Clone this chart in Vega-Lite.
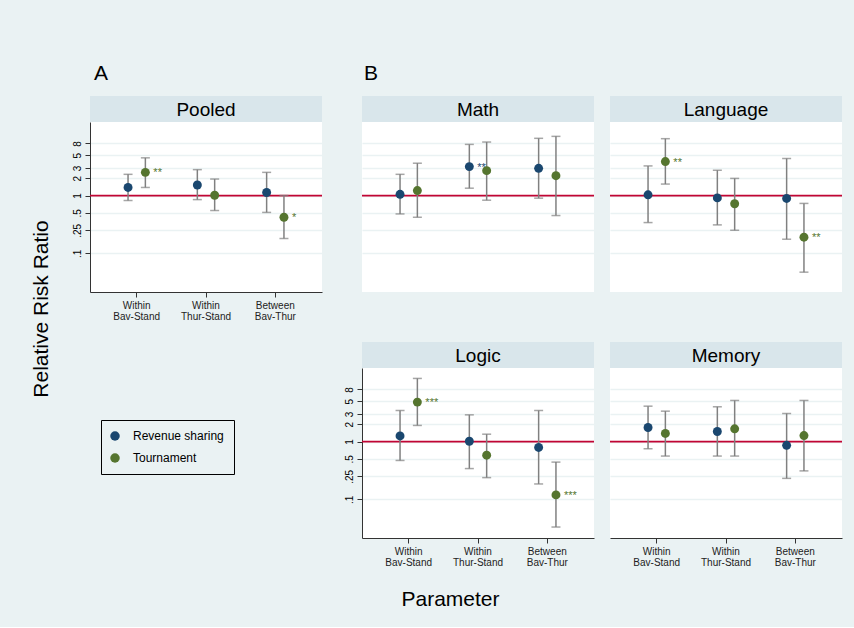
{
  "$schema": "https://vega.github.io/schema/vega-lite/v6.json",
  "background": "#eaf2f3",
  "padding": {"left": 30, "top": 63, "right": 13, "bottom": 18},
  "config": {"font": "Liberation Sans", "view": {"stroke": null}},
  "title": {"text": "Relative Risk Ratio", "orient": "left", "anchor": "middle", "fontSize": 21, "fontWeight": "normal", "color": "#000", "offset": 20, "dx": 27},
  "datasets": {
    "est": [
      {"panel": "Pooled", "param": "Within Bav-Stand", "series": "Revenue sharing", "est": 1.38, "lo": 0.82, "hi": 2.33, "star": ""},
      {"panel": "Pooled", "param": "Within Bav-Stand", "series": "Tournament", "est": 2.52, "lo": 1.38, "hi": 4.5, "star": "**"},
      {"panel": "Pooled", "param": "Within Thur-Stand", "series": "Revenue sharing", "est": 1.52, "lo": 0.85, "hi": 2.81, "star": ""},
      {"panel": "Pooled", "param": "Within Thur-Stand", "series": "Tournament", "est": 1.01, "lo": 0.55, "hi": 1.93, "star": ""},
      {"panel": "Pooled", "param": "Between Bav-Thur", "series": "Revenue sharing", "est": 1.13, "lo": 0.51, "hi": 2.52, "star": ""},
      {"panel": "Pooled", "param": "Between Bav-Thur", "series": "Tournament", "est": 0.42, "lo": 0.18, "hi": 1.0, "star": "*"},
      {"panel": "Math", "param": "Within Bav-Stand", "series": "Revenue sharing", "est": 1.05, "lo": 0.48, "hi": 2.33, "star": ""},
      {"panel": "Math", "param": "Within Bav-Stand", "series": "Tournament", "est": 1.22, "lo": 0.42, "hi": 3.63, "star": ""},
      {"panel": "Math", "param": "Within Thur-Stand", "series": "Revenue sharing", "est": 3.17, "lo": 1.34, "hi": 7.69, "star": "**"},
      {"panel": "Math", "param": "Within Thur-Stand", "series": "Tournament", "est": 2.7, "lo": 0.83, "hi": 8.45, "star": ""},
      {"panel": "Math", "param": "Between Bav-Thur", "series": "Revenue sharing", "est": 2.96, "lo": 0.9, "hi": 9.8, "star": ""},
      {"panel": "Math", "param": "Between Bav-Thur", "series": "Tournament", "est": 2.21, "lo": 0.45, "hi": 10.6, "star": ""},
      {"panel": "Language", "param": "Within Bav-Stand", "series": "Revenue sharing", "est": 1.03, "lo": 0.34, "hi": 3.26, "star": ""},
      {"panel": "Language", "param": "Within Bav-Stand", "series": "Tournament", "est": 3.88, "lo": 1.58, "hi": 9.66, "star": "**"},
      {"panel": "Language", "param": "Within Thur-Stand", "series": "Revenue sharing", "est": 0.91, "lo": 0.31, "hi": 2.74, "star": ""},
      {"panel": "Language", "param": "Within Thur-Stand", "series": "Tournament", "est": 0.72, "lo": 0.25, "hi": 1.98, "star": ""},
      {"panel": "Language", "param": "Between Bav-Thur", "series": "Revenue sharing", "est": 0.89, "lo": 0.175, "hi": 4.38, "star": ""},
      {"panel": "Language", "param": "Between Bav-Thur", "series": "Tournament", "est": 0.19, "lo": 0.047, "hi": 0.73, "star": "**"},
      {"panel": "Logic", "param": "Within Bav-Stand", "series": "Revenue sharing", "est": 1.25, "lo": 0.47, "hi": 3.45, "star": ""},
      {"panel": "Logic", "param": "Within Bav-Stand", "series": "Tournament", "est": 4.82, "lo": 1.9, "hi": 12.4, "star": "***"},
      {"panel": "Logic", "param": "Within Thur-Stand", "series": "Revenue sharing", "est": 1.01, "lo": 0.34, "hi": 2.9, "star": ""},
      {"panel": "Logic", "param": "Within Thur-Stand", "series": "Tournament", "est": 0.58, "lo": 0.237, "hi": 1.34, "star": ""},
      {"panel": "Logic", "param": "Between Bav-Thur", "series": "Revenue sharing", "est": 0.79, "lo": 0.184, "hi": 3.45, "star": ""},
      {"panel": "Logic", "param": "Between Bav-Thur", "series": "Tournament", "est": 0.119, "lo": 0.033, "hi": 0.44, "star": "***"},
      {"panel": "Memory", "param": "Within Bav-Stand", "series": "Revenue sharing", "est": 1.75, "lo": 0.75, "hi": 4.1, "star": ""},
      {"panel": "Memory", "param": "Within Bav-Stand", "series": "Tournament", "est": 1.38, "lo": 0.56, "hi": 3.36, "star": ""},
      {"panel": "Memory", "param": "Within Thur-Stand", "series": "Revenue sharing", "est": 1.49, "lo": 0.56, "hi": 4.0, "star": ""},
      {"panel": "Memory", "param": "Within Thur-Stand", "series": "Tournament", "est": 1.66, "lo": 0.56, "hi": 5.15, "star": ""},
      {"panel": "Memory", "param": "Between Bav-Thur", "series": "Revenue sharing", "est": 0.86, "lo": 0.23, "hi": 3.06, "star": ""},
      {"panel": "Memory", "param": "Between Bav-Thur", "series": "Tournament", "est": 1.27, "lo": 0.31, "hi": 5.15, "star": ""}
    ]
  },
  "hconcat": [
    {
      "title": {"text": "A", "anchor": "start", "frame": "group", "fontSize": 21, "fontWeight": "normal", "color": "#000", "offset": 12, "dx": 4},
      "vconcat": [
        {
          "width": 232, "height": 26,
          "view": {"fill": "#d9e6eb", "stroke": null},
          "data": {"values": [{"panel": "Pooled"}]},
          "mark": {"type": "text", "fontSize": 19, "color": "#000", "baseline": "middle", "dy": 1},
          "encoding": {"text": {"field": "panel"}}
        },
        {
          "width": 232, "height": 170,
          "view": {"fill": "white", "stroke": null},
          "layer": [
            {
              "data": {"values": [{"ratio": 1}]},
              "mark": {"type": "rule", "color": "#c10534", "strokeWidth": 1.8},
              "encoding": {
                "y": {"field": "ratio", "type": "quantitative", "scale": {"type": "log", "domain": [0.0213, 18.8], "nice": false},
                  "axis": {"title": null, "values": [0.1, 0.25, 0.5, 1, 2, 3, 5, 8], "labelExpr": "datum.value < 1 ? slice(toString(datum.value), 1) : toString(datum.value)", "labelAngle": 270, "labelAlign": "center", "labelBaseline": "bottom", "labelFontSize": 10, "labelPadding": 3, "labelColor": "#000", "labelOverlap": false, "labelFlush": false, "tickSize": 5, "tickColor": "#333", "domainColor": "#333", "grid": true, "gridColor": "#eaf2f3", "gridWidth": 1.5}}
              }
            },
            {
              "data": {"name": "est"},
              "transform": [{"filter": "datum.panel == 'Pooled'"}],
              "encoding": {
                "x": {"field": "param", "type": "nominal", "scale": {"domain": ["Within Bav-Stand", "Within Thur-Stand", "Between Bav-Thur"], "paddingInner": 0, "paddingOuter": 0.174},
                  "axis": {"title": null, "labelExpr": "split(datum.label, ' ')", "labelAngle": 0, "labelFontSize": 10, "labelLineHeight": 11, "labelPadding": 3, "labelColor": "#222", "tickSize": 5, "tickColor": "#333", "domainColor": "#333", "grid": false}},
                "xOffset": {"field": "series", "type": "nominal", "scale": {"domain": ["Revenue sharing", "Tournament"], "paddingInner": 0, "paddingOuter": 1}}
              },
              "layer": [
                {"mark": {"type": "rule", "color": "#808080", "strokeWidth": 1.5},
                 "encoding": {"y": {"field": "lo", "type": "quantitative", "title": null, "scale": {"type": "log", "domain": [0.0213, 18.8], "nice": false}}, "y2": {"field": "hi"}}},
                {"mark": {"type": "tick", "orient": "horizontal", "size": 9, "thickness": 1.5, "color": "#808080"},
                 "encoding": {"y": {"field": "lo", "type": "quantitative", "title": null, "scale": {"type": "log", "domain": [0.0213, 18.8], "nice": false}}}},
                {"mark": {"type": "tick", "orient": "horizontal", "size": 9, "thickness": 1.5, "color": "#808080"},
                 "encoding": {"y": {"field": "hi", "type": "quantitative", "title": null, "scale": {"type": "log", "domain": [0.0213, 18.8], "nice": false}}}},
                {"mark": {"type": "circle", "size": 80, "opacity": 1},
                 "encoding": {"y": {"field": "est", "type": "quantitative", "title": null, "scale": {"type": "log", "domain": [0.0213, 18.8], "nice": false}},
                   "color": {"field": "series", "type": "nominal", "scale": {"domain": ["Revenue sharing", "Tournament"], "range": ["#1a476f", "#55752f"]},
                     "legend": {"title": null, "orient": "none", "legendX": 11, "legendY": 298, "strokeColor": "#000", "padding": 10, "symbolType": "circle", "symbolSize": 90, "symbolStrokeWidth": 0, "symbolOpacity": 1, "symbolOffset": -2, "labelFontSize": 12, "labelColor": "#000", "labelExpr": "datum.label + '\u00a0\u00a0\u00a0\u00a0'", "rowPadding": 10, "labelOffset": 12}}}},
                {"transform": [{"filter": "datum.star != ''"}],
                 "mark": {"type": "text", "align": "left", "baseline": "middle", "dx": 8, "dy": 1, "fontSize": 11},
                 "encoding": {"y": {"field": "est", "type": "quantitative", "title": null, "scale": {"type": "log", "domain": [0.0213, 18.8], "nice": false}},
                   "text": {"field": "star"},
                   "color": {"field": "series", "type": "nominal", "scale": {"domain": ["Revenue sharing", "Tournament"], "range": ["#1a476f", "#55752f"]}, "legend": null}}}
              ]
            }
          ]
        }
      ],
      "spacing": 0,
      "bounds": "flush",
      "resolve": {"scale": {"color": "independent", "xOffset": "independent"}, "legend": {"color": "independent"}}
    },
    {
      "title": {"text": "B", "anchor": "start", "frame": "group", "fontSize": 21, "fontWeight": "normal", "color": "#000", "offset": 12, "dx": 2},
      "hconcat": [
        {
          "vconcat": [
            {
              "vconcat": [
                {
                  "width": 232, "height": 26,
                  "view": {"fill": "#d9e6eb", "stroke": null},
                  "data": {"values": [{"panel": "Math"}]},
                  "mark": {"type": "text", "fontSize": 19, "color": "#000", "baseline": "middle", "dy": 1},
                  "encoding": {"text": {"field": "panel"}}
                },
                {
                  "width": 232, "height": 170,
                  "view": {"fill": "white", "stroke": null},
                  "layer": [
                    {
                      "data": {"values": [{"ratio": 1}]},
                      "mark": {"type": "rule", "color": "#c10534", "strokeWidth": 1.8},
                      "encoding": {
                        "y": {"field": "ratio", "type": "quantitative", "scale": {"type": "log", "domain": [0.0213, 18.8], "nice": false},
                          "axis": {"title": null, "values": [0.1, 0.25, 0.5, 1, 2, 3, 5, 8], "labelExpr": "datum.value < 1 ? slice(toString(datum.value), 1) : toString(datum.value)", "labelAngle": 270, "labelAlign": "center", "labelBaseline": "bottom", "labelFontSize": 10, "labelPadding": 3, "labelOpacity": 0, "labelOverlap": false, "labelFlush": false, "tickSize": 5, "tickOpacity": 0, "domainOpacity": 0, "grid": true, "gridColor": "#eaf2f3", "gridWidth": 1.5}}
                      }
                    },
                    {
                      "data": {"name": "est"},
                      "transform": [{"filter": "datum.panel == 'Math'"}],
                      "encoding": {
                        "x": {"field": "param", "type": "nominal", "scale": {"domain": ["Within Bav-Stand", "Within Thur-Stand", "Between Bav-Thur"], "paddingInner": 0, "paddingOuter": 0.174}, "axis": null},
                        "xOffset": {"field": "series", "type": "nominal", "scale": {"domain": ["Revenue sharing", "Tournament"], "paddingInner": 0, "paddingOuter": 1}}
                      },
                      "layer": [
                        {"mark": {"type": "rule", "color": "#808080", "strokeWidth": 1.5},
                         "encoding": {"y": {"field": "lo", "type": "quantitative", "title": null, "scale": {"type": "log", "domain": [0.0213, 18.8], "nice": false}}, "y2": {"field": "hi"}}},
                        {"mark": {"type": "tick", "orient": "horizontal", "size": 9, "thickness": 1.5, "color": "#808080"},
                         "encoding": {"y": {"field": "lo", "type": "quantitative", "title": null, "scale": {"type": "log", "domain": [0.0213, 18.8], "nice": false}}}},
                        {"mark": {"type": "tick", "orient": "horizontal", "size": 9, "thickness": 1.5, "color": "#808080"},
                         "encoding": {"y": {"field": "hi", "type": "quantitative", "title": null, "scale": {"type": "log", "domain": [0.0213, 18.8], "nice": false}}}},
                        {"mark": {"type": "circle", "size": 80, "opacity": 1},
                         "encoding": {"y": {"field": "est", "type": "quantitative", "title": null, "scale": {"type": "log", "domain": [0.0213, 18.8], "nice": false}},
                           "color": {"field": "series", "type": "nominal", "scale": {"domain": ["Revenue sharing", "Tournament"], "range": ["#1a476f", "#55752f"]}, "legend": null}}},
                        {"transform": [{"filter": "datum.star != ''"}],
                         "mark": {"type": "text", "align": "left", "baseline": "middle", "dx": 8, "dy": 1, "fontSize": 11},
                         "encoding": {"y": {"field": "est", "type": "quantitative", "title": null, "scale": {"type": "log", "domain": [0.0213, 18.8], "nice": false}},
                           "text": {"field": "star"},
                           "color": {"field": "series", "type": "nominal", "scale": {"domain": ["Revenue sharing", "Tournament"], "range": ["#1a476f", "#55752f"]}, "legend": null}}}
                      ]
                    }
                  ]
                }
              ],
              "spacing": 0,
              "bounds": "flush",
              "resolve": {"scale": {"color": "independent", "xOffset": "independent"}, "legend": {"color": "independent"}}
            },
            {
              "vconcat": [
                {
                  "width": 232, "height": 26,
                  "view": {"fill": "#d9e6eb", "stroke": null},
                  "data": {"values": [{"panel": "Logic"}]},
                  "mark": {"type": "text", "fontSize": 19, "color": "#000", "baseline": "middle", "dy": 1},
                  "encoding": {"text": {"field": "panel"}}
                },
                {
                  "width": 232, "height": 170,
                  "view": {"fill": "white", "stroke": null},
                  "layer": [
                    {
                      "data": {"values": [{"ratio": 1}]},
                      "mark": {"type": "rule", "color": "#c10534", "strokeWidth": 1.8},
                      "encoding": {
                        "y": {"field": "ratio", "type": "quantitative", "scale": {"type": "log", "domain": [0.0213, 18.8], "nice": false},
                          "axis": {"title": null, "values": [0.1, 0.25, 0.5, 1, 2, 3, 5, 8], "labelExpr": "datum.value < 1 ? slice(toString(datum.value), 1) : toString(datum.value)", "labelAngle": 270, "labelAlign": "center", "labelBaseline": "bottom", "labelFontSize": 10, "labelPadding": 3, "labelColor": "#000", "labelOverlap": false, "labelFlush": false, "tickSize": 5, "tickColor": "#333", "domainColor": "#333", "grid": true, "gridColor": "#eaf2f3", "gridWidth": 1.5}}
                      }
                    },
                    {
                      "data": {"name": "est"},
                      "transform": [{"filter": "datum.panel == 'Logic'"}],
                      "encoding": {
                        "x": {"field": "param", "type": "nominal", "scale": {"domain": ["Within Bav-Stand", "Within Thur-Stand", "Between Bav-Thur"], "paddingInner": 0, "paddingOuter": 0.174},
                          "axis": {"title": "Parameter", "titleFontSize": 21, "titleFontWeight": "normal", "titleColor": "#000", "titleX": 88, "titleY": 67, "titleAlign": "center", "titleBaseline": "alphabetic", "labelExpr": "split(datum.label, ' ')", "labelAngle": 0, "labelFontSize": 10, "labelLineHeight": 11, "labelPadding": 3, "labelColor": "#222", "tickSize": 5, "tickColor": "#333", "domainColor": "#333", "grid": false}},
                        "xOffset": {"field": "series", "type": "nominal", "scale": {"domain": ["Revenue sharing", "Tournament"], "paddingInner": 0, "paddingOuter": 1}}
                      },
                      "layer": [
                        {"mark": {"type": "rule", "color": "#808080", "strokeWidth": 1.5},
                         "encoding": {"y": {"field": "lo", "type": "quantitative", "title": null, "scale": {"type": "log", "domain": [0.0213, 18.8], "nice": false}}, "y2": {"field": "hi"}}},
                        {"mark": {"type": "tick", "orient": "horizontal", "size": 9, "thickness": 1.5, "color": "#808080"},
                         "encoding": {"y": {"field": "lo", "type": "quantitative", "title": null, "scale": {"type": "log", "domain": [0.0213, 18.8], "nice": false}}}},
                        {"mark": {"type": "tick", "orient": "horizontal", "size": 9, "thickness": 1.5, "color": "#808080"},
                         "encoding": {"y": {"field": "hi", "type": "quantitative", "title": null, "scale": {"type": "log", "domain": [0.0213, 18.8], "nice": false}}}},
                        {"mark": {"type": "circle", "size": 80, "opacity": 1},
                         "encoding": {"y": {"field": "est", "type": "quantitative", "title": null, "scale": {"type": "log", "domain": [0.0213, 18.8], "nice": false}},
                           "color": {"field": "series", "type": "nominal", "scale": {"domain": ["Revenue sharing", "Tournament"], "range": ["#1a476f", "#55752f"]}, "legend": null}}},
                        {"transform": [{"filter": "datum.star != ''"}],
                         "mark": {"type": "text", "align": "left", "baseline": "middle", "dx": 8, "dy": 1, "fontSize": 11},
                         "encoding": {"y": {"field": "est", "type": "quantitative", "title": null, "scale": {"type": "log", "domain": [0.0213, 18.8], "nice": false}},
                           "text": {"field": "star"},
                           "color": {"field": "series", "type": "nominal", "scale": {"domain": ["Revenue sharing", "Tournament"], "range": ["#1a476f", "#55752f"]}, "legend": null}}}
                      ]
                    }
                  ]
                }
              ],
              "spacing": 0,
              "bounds": "flush",
              "resolve": {"scale": {"color": "independent", "xOffset": "independent"}, "legend": {"color": "independent"}}
            }
          ],
          "spacing": 50,
          "resolve": {"scale": {"color": "independent", "xOffset": "independent"}, "legend": {"color": "independent"}}
        },
        {
          "vconcat": [
            {
              "vconcat": [
                {
                  "width": 232, "height": 26,
                  "view": {"fill": "#d9e6eb", "stroke": null},
                  "data": {"values": [{"panel": "Language"}]},
                  "mark": {"type": "text", "fontSize": 19, "color": "#000", "baseline": "middle", "dy": 1},
                  "encoding": {"text": {"field": "panel"}}
                },
                {
                  "width": 232, "height": 170,
                  "view": {"fill": "white", "stroke": null},
                  "layer": [
                    {
                      "data": {"values": [{"ratio": 1}]},
                      "mark": {"type": "rule", "color": "#c10534", "strokeWidth": 1.8},
                      "encoding": {
                        "y": {"field": "ratio", "type": "quantitative", "scale": {"type": "log", "domain": [0.0213, 18.8], "nice": false},
                          "axis": {"title": null, "values": [0.1, 0.25, 0.5, 1, 2, 3, 5, 8], "labels": false, "ticks": false, "domain": false, "grid": true, "gridColor": "#eaf2f3", "gridWidth": 1.5}}
                      }
                    },
                    {
                      "data": {"name": "est"},
                      "transform": [{"filter": "datum.panel == 'Language'"}],
                      "encoding": {
                        "x": {"field": "param", "type": "nominal", "scale": {"domain": ["Within Bav-Stand", "Within Thur-Stand", "Between Bav-Thur"], "paddingInner": 0, "paddingOuter": 0.174}, "axis": null},
                        "xOffset": {"field": "series", "type": "nominal", "scale": {"domain": ["Revenue sharing", "Tournament"], "paddingInner": 0, "paddingOuter": 1}}
                      },
                      "layer": [
                        {"mark": {"type": "rule", "color": "#808080", "strokeWidth": 1.5},
                         "encoding": {"y": {"field": "lo", "type": "quantitative", "title": null, "scale": {"type": "log", "domain": [0.0213, 18.8], "nice": false}}, "y2": {"field": "hi"}}},
                        {"mark": {"type": "tick", "orient": "horizontal", "size": 9, "thickness": 1.5, "color": "#808080"},
                         "encoding": {"y": {"field": "lo", "type": "quantitative", "title": null, "scale": {"type": "log", "domain": [0.0213, 18.8], "nice": false}}}},
                        {"mark": {"type": "tick", "orient": "horizontal", "size": 9, "thickness": 1.5, "color": "#808080"},
                         "encoding": {"y": {"field": "hi", "type": "quantitative", "title": null, "scale": {"type": "log", "domain": [0.0213, 18.8], "nice": false}}}},
                        {"mark": {"type": "circle", "size": 80, "opacity": 1},
                         "encoding": {"y": {"field": "est", "type": "quantitative", "title": null, "scale": {"type": "log", "domain": [0.0213, 18.8], "nice": false}},
                           "color": {"field": "series", "type": "nominal", "scale": {"domain": ["Revenue sharing", "Tournament"], "range": ["#1a476f", "#55752f"]}, "legend": null}}},
                        {"transform": [{"filter": "datum.star != ''"}],
                         "mark": {"type": "text", "align": "left", "baseline": "middle", "dx": 8, "dy": 1, "fontSize": 11},
                         "encoding": {"y": {"field": "est", "type": "quantitative", "title": null, "scale": {"type": "log", "domain": [0.0213, 18.8], "nice": false}},
                           "text": {"field": "star"},
                           "color": {"field": "series", "type": "nominal", "scale": {"domain": ["Revenue sharing", "Tournament"], "range": ["#1a476f", "#55752f"]}, "legend": null}}}
                      ]
                    }
                  ]
                }
              ],
              "spacing": 0,
              "bounds": "flush",
              "resolve": {"scale": {"color": "independent", "xOffset": "independent"}, "legend": {"color": "independent"}}
            },
            {
              "vconcat": [
                {
                  "width": 232, "height": 26,
                  "view": {"fill": "#d9e6eb", "stroke": null},
                  "data": {"values": [{"panel": "Memory"}]},
                  "mark": {"type": "text", "fontSize": 19, "color": "#000", "baseline": "middle", "dy": 1},
                  "encoding": {"text": {"field": "panel"}}
                },
                {
                  "width": 232, "height": 170,
                  "view": {"fill": "white", "stroke": null},
                  "layer": [
                    {
                      "data": {"values": [{"ratio": 1}]},
                      "mark": {"type": "rule", "color": "#c10534", "strokeWidth": 1.8},
                      "encoding": {
                        "y": {"field": "ratio", "type": "quantitative", "scale": {"type": "log", "domain": [0.0213, 18.8], "nice": false},
                          "axis": {"title": null, "values": [0.1, 0.25, 0.5, 1, 2, 3, 5, 8], "labels": false, "ticks": false, "domain": false, "grid": true, "gridColor": "#eaf2f3", "gridWidth": 1.5}}
                      }
                    },
                    {
                      "data": {"name": "est"},
                      "transform": [{"filter": "datum.panel == 'Memory'"}],
                      "encoding": {
                        "x": {"field": "param", "type": "nominal", "scale": {"domain": ["Within Bav-Stand", "Within Thur-Stand", "Between Bav-Thur"], "paddingInner": 0, "paddingOuter": 0.174},
                          "axis": {"title": null, "labelExpr": "split(datum.label, ' ')", "labelAngle": 0, "labelFontSize": 10, "labelLineHeight": 11, "labelPadding": 3, "labelColor": "#222", "tickSize": 5, "tickColor": "#333", "domainColor": "#333", "grid": false}},
                        "xOffset": {"field": "series", "type": "nominal", "scale": {"domain": ["Revenue sharing", "Tournament"], "paddingInner": 0, "paddingOuter": 1}}
                      },
                      "layer": [
                        {"mark": {"type": "rule", "color": "#808080", "strokeWidth": 1.5},
                         "encoding": {"y": {"field": "lo", "type": "quantitative", "title": null, "scale": {"type": "log", "domain": [0.0213, 18.8], "nice": false}}, "y2": {"field": "hi"}}},
                        {"mark": {"type": "tick", "orient": "horizontal", "size": 9, "thickness": 1.5, "color": "#808080"},
                         "encoding": {"y": {"field": "lo", "type": "quantitative", "title": null, "scale": {"type": "log", "domain": [0.0213, 18.8], "nice": false}}}},
                        {"mark": {"type": "tick", "orient": "horizontal", "size": 9, "thickness": 1.5, "color": "#808080"},
                         "encoding": {"y": {"field": "hi", "type": "quantitative", "title": null, "scale": {"type": "log", "domain": [0.0213, 18.8], "nice": false}}}},
                        {"mark": {"type": "circle", "size": 80, "opacity": 1},
                         "encoding": {"y": {"field": "est", "type": "quantitative", "title": null, "scale": {"type": "log", "domain": [0.0213, 18.8], "nice": false}},
                           "color": {"field": "series", "type": "nominal", "scale": {"domain": ["Revenue sharing", "Tournament"], "range": ["#1a476f", "#55752f"]}, "legend": null}}},
                        {"transform": [{"filter": "datum.star != ''"}],
                         "mark": {"type": "text", "align": "left", "baseline": "middle", "dx": 8, "dy": 1, "fontSize": 11},
                         "encoding": {"y": {"field": "est", "type": "quantitative", "title": null, "scale": {"type": "log", "domain": [0.0213, 18.8], "nice": false}},
                           "text": {"field": "star"},
                           "color": {"field": "series", "type": "nominal", "scale": {"domain": ["Revenue sharing", "Tournament"], "range": ["#1a476f", "#55752f"]}, "legend": null}}}
                      ]
                    }
                  ]
                }
              ],
              "spacing": 0,
              "bounds": "flush",
              "resolve": {"scale": {"color": "independent", "xOffset": "independent"}, "legend": {"color": "independent"}}
            }
          ],
          "spacing": 50,
          "resolve": {"scale": {"color": "independent", "xOffset": "independent"}, "legend": {"color": "independent"}}
        }
      ],
      "spacing": 14,
      "resolve": {"scale": {"color": "independent", "xOffset": "independent"}, "legend": {"color": "independent"}}
    }
  ],
  "spacing": 20,
  "resolve": {"scale": {"color": "independent", "xOffset": "independent"}, "legend": {"color": "independent"}}
}
